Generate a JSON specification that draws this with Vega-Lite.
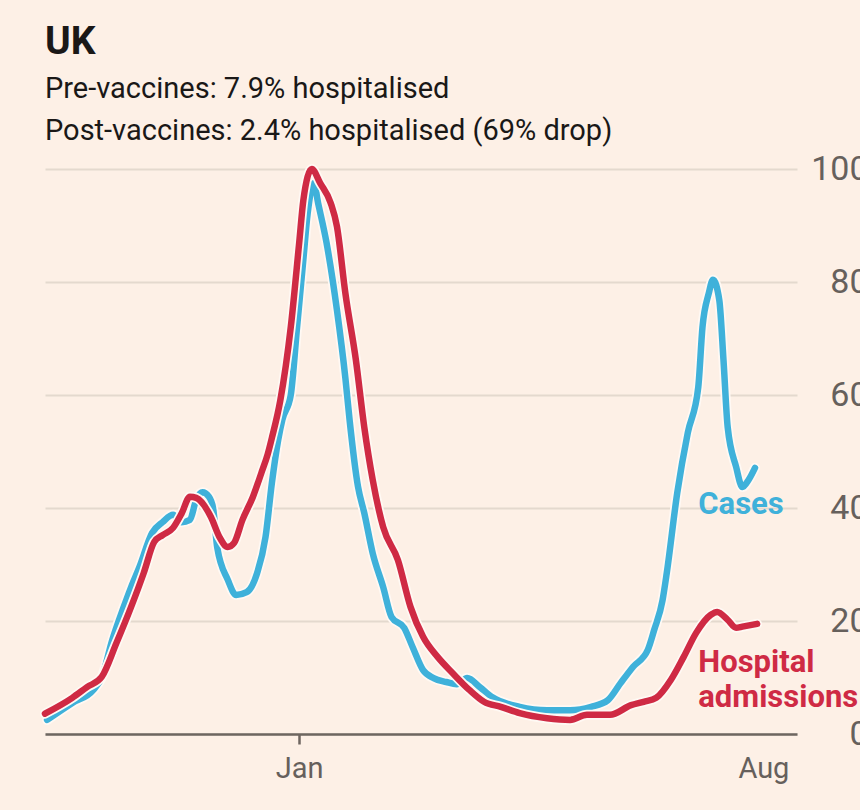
{
  "$schema": "https://vega.github.io/schema/vega-lite/v6.json",
  "width": 752,
  "height": 565,
  "autosize": {"type": "none"},
  "padding": {"left": 45, "top": 169, "right": 63, "bottom": 76},
  "background": "#fdf0e6",
  "title": {
    "text": "UK",
    "subtitle": ["Pre-vaccines: 7.9% hospitalised", "Post-vaccines: 2.4% hospitalised (69% drop)"],
    "anchor": "start",
    "frame": "group",
    "font": "Roboto",
    "fontSize": 39,
    "fontWeight": "bold",
    "color": "#1a1817",
    "subtitleFont": "Roboto",
    "subtitleFontSize": 29,
    "subtitleColor": "#1a1817",
    "subtitleLineHeight": 42,
    "subtitlePadding": 13,
    "offset": 6
  },
  "config": {"view": {"stroke": null}},
  "datasets": {
    "cases": [
      {"date": "2020-09-03T00:00:00", "value": 2.5},
      {"date": "2020-09-15T00:00:00", "value": 5.5},
      {"date": "2020-09-25T00:00:00", "value": 7.8},
      {"date": "2020-09-29T00:00:00", "value": 10},
      {"date": "2020-10-04T00:00:00", "value": 16.6},
      {"date": "2020-10-09T00:00:00", "value": 22},
      {"date": "2020-10-13T00:00:00", "value": 26},
      {"date": "2020-10-17T00:00:00", "value": 29.6},
      {"date": "2020-10-23T00:00:00", "value": 35.6},
      {"date": "2020-10-28T00:00:00", "value": 37.5},
      {"date": "2020-11-02T00:00:00", "value": 38.8},
      {"date": "2020-11-06T00:00:00", "value": 37.5},
      {"date": "2020-11-10T00:00:00", "value": 37.9},
      {"date": "2020-11-13T00:00:00", "value": 41.5},
      {"date": "2020-11-16T00:00:00", "value": 42.8},
      {"date": "2020-11-19T00:00:00", "value": 42},
      {"date": "2020-11-21T00:00:00", "value": 40},
      {"date": "2020-11-23T00:00:00", "value": 33},
      {"date": "2020-11-28T00:00:00", "value": 27.3},
      {"date": "2020-12-02T00:00:00", "value": 24.6},
      {"date": "2020-12-07T00:00:00", "value": 25.1},
      {"date": "2020-12-12T00:00:00", "value": 28.5},
      {"date": "2020-12-16T00:00:00", "value": 34.9},
      {"date": "2020-12-19T00:00:00", "value": 44.4},
      {"date": "2020-12-22T00:00:00", "value": 52},
      {"date": "2020-12-24T00:00:00", "value": 55.6},
      {"date": "2020-12-28T00:00:00", "value": 60},
      {"date": "2020-12-31T00:00:00", "value": 72},
      {"date": "2021-01-03T00:00:00", "value": 84},
      {"date": "2021-01-05T00:00:00", "value": 92},
      {"date": "2021-01-08T00:00:00", "value": 97.5},
      {"date": "2021-01-10T00:00:00", "value": 94},
      {"date": "2021-01-14T00:00:00", "value": 87},
      {"date": "2021-01-19T00:00:00", "value": 75},
      {"date": "2021-01-23T00:00:00", "value": 63},
      {"date": "2021-01-25T00:00:00", "value": 55.6},
      {"date": "2021-01-29T00:00:00", "value": 43.8},
      {"date": "2021-02-01T00:00:00", "value": 39.1},
      {"date": "2021-02-05T00:00:00", "value": 32},
      {"date": "2021-02-10T00:00:00", "value": 26},
      {"date": "2021-02-14T00:00:00", "value": 20.7},
      {"date": "2021-02-20T00:00:00", "value": 18.8},
      {"date": "2021-02-24T00:00:00", "value": 15.4},
      {"date": "2021-03-01T00:00:00", "value": 11.3},
      {"date": "2021-03-06T00:00:00", "value": 9.9},
      {"date": "2021-03-12T00:00:00", "value": 9.2},
      {"date": "2021-03-17T00:00:00", "value": 8.8},
      {"date": "2021-03-22T00:00:00", "value": 9.9},
      {"date": "2021-03-28T00:00:00", "value": 8.3},
      {"date": "2021-04-03T00:00:00", "value": 6.5},
      {"date": "2021-04-16T00:00:00", "value": 4.8},
      {"date": "2021-04-29T00:00:00", "value": 4.2},
      {"date": "2021-05-10T00:00:00", "value": 4.2},
      {"date": "2021-05-20T00:00:00", "value": 4.8},
      {"date": "2021-05-28T00:00:00", "value": 6},
      {"date": "2021-06-03T00:00:00", "value": 9},
      {"date": "2021-06-09T00:00:00", "value": 11.9},
      {"date": "2021-06-16T00:00:00", "value": 14.9},
      {"date": "2021-06-19T00:00:00", "value": 18.4},
      {"date": "2021-06-23T00:00:00", "value": 23.7},
      {"date": "2021-06-25T00:00:00", "value": 28.5},
      {"date": "2021-06-30T00:00:00", "value": 42.7},
      {"date": "2021-07-05T00:00:00", "value": 53.3},
      {"date": "2021-07-10T00:00:00", "value": 61.4},
      {"date": "2021-07-12T00:00:00", "value": 72},
      {"date": "2021-07-15T00:00:00", "value": 78},
      {"date": "2021-07-17T00:00:00", "value": 80.4},
      {"date": "2021-07-20T00:00:00", "value": 76.8},
      {"date": "2021-07-22T00:00:00", "value": 66.2},
      {"date": "2021-07-24T00:00:00", "value": 54.3},
      {"date": "2021-07-28T00:00:00", "value": 47.3},
      {"date": "2021-07-31T00:00:00", "value": 43.7},
      {"date": "2021-08-03T00:00:00", "value": 45},
      {"date": "2021-08-06T00:00:00", "value": 47.1}
    ],
    "admissions": [
      {"date": "2020-09-02T00:00:00", "value": 3.6},
      {"date": "2020-09-15T00:00:00", "value": 6.4},
      {"date": "2020-09-22T00:00:00", "value": 8.3},
      {"date": "2020-09-29T00:00:00", "value": 10.1},
      {"date": "2020-10-06T00:00:00", "value": 16.1},
      {"date": "2020-10-13T00:00:00", "value": 22.5},
      {"date": "2020-10-19T00:00:00", "value": 28.5},
      {"date": "2020-10-24T00:00:00", "value": 34},
      {"date": "2020-10-28T00:00:00", "value": 35.2},
      {"date": "2020-11-02T00:00:00", "value": 36.5},
      {"date": "2020-11-06T00:00:00", "value": 39},
      {"date": "2020-11-10T00:00:00", "value": 42},
      {"date": "2020-11-13T00:00:00", "value": 41.8},
      {"date": "2020-11-20T00:00:00", "value": 38.4},
      {"date": "2020-11-24T00:00:00", "value": 34.9},
      {"date": "2020-11-28T00:00:00", "value": 33.1},
      {"date": "2020-12-01T00:00:00", "value": 33.8},
      {"date": "2020-12-05T00:00:00", "value": 37.9},
      {"date": "2020-12-10T00:00:00", "value": 42},
      {"date": "2020-12-14T00:00:00", "value": 46.2},
      {"date": "2020-12-17T00:00:00", "value": 49.5},
      {"date": "2020-12-19T00:00:00", "value": 52.4},
      {"date": "2020-12-23T00:00:00", "value": 59},
      {"date": "2020-12-28T00:00:00", "value": 72},
      {"date": "2021-01-01T00:00:00", "value": 86.9},
      {"date": "2021-01-03T00:00:00", "value": 94.5},
      {"date": "2021-01-07T00:00:00", "value": 100},
      {"date": "2021-01-11T00:00:00", "value": 97.5},
      {"date": "2021-01-16T00:00:00", "value": 94},
      {"date": "2021-01-19T00:00:00", "value": 89.8},
      {"date": "2021-01-23T00:00:00", "value": 78},
      {"date": "2021-01-28T00:00:00", "value": 66.2},
      {"date": "2021-02-01T00:00:00", "value": 54.3},
      {"date": "2021-02-05T00:00:00", "value": 45},
      {"date": "2021-02-10T00:00:00", "value": 36.6},
      {"date": "2021-02-17T00:00:00", "value": 30.8},
      {"date": "2021-02-23T00:00:00", "value": 22.5},
      {"date": "2021-03-01T00:00:00", "value": 17.2},
      {"date": "2021-03-08T00:00:00", "value": 13.6},
      {"date": "2021-03-15T00:00:00", "value": 10.8},
      {"date": "2021-03-23T00:00:00", "value": 7.8},
      {"date": "2021-03-30T00:00:00", "value": 5.7},
      {"date": "2021-04-07T00:00:00", "value": 4.8},
      {"date": "2021-04-16T00:00:00", "value": 3.7},
      {"date": "2021-04-29T00:00:00", "value": 2.8},
      {"date": "2021-05-10T00:00:00", "value": 2.5},
      {"date": "2021-05-18T00:00:00", "value": 3.4},
      {"date": "2021-05-29T00:00:00", "value": 3.4},
      {"date": "2021-06-08T00:00:00", "value": 5.1},
      {"date": "2021-06-14T00:00:00", "value": 5.7},
      {"date": "2021-06-20T00:00:00", "value": 6.4},
      {"date": "2021-06-27T00:00:00", "value": 9.6},
      {"date": "2021-07-03T00:00:00", "value": 13.6},
      {"date": "2021-07-09T00:00:00", "value": 17.9},
      {"date": "2021-07-16T00:00:00", "value": 21.1},
      {"date": "2021-07-19T00:00:00", "value": 21.6},
      {"date": "2021-07-24T00:00:00", "value": 20.2},
      {"date": "2021-07-28T00:00:00", "value": 18.8},
      {"date": "2021-07-31T00:00:00", "value": 19},
      {"date": "2021-08-07T00:00:00", "value": 19.5}
    ],
    "labels": [
      {"date": "2021-07-10T00:00:00", "value": 38.9, "series": "Cases", "text": "Cases"},
      {"date": "2021-07-10T00:00:00", "value": 10.9, "series": "Hospital admissions", "text": "Hospital"},
      {"date": "2021-07-10T00:00:00", "value": 4.7, "series": "Hospital admissions", "text": "admissions"}
    ]
  },
  "encoding": {
    "x": {
      "field": "date",
      "type": "temporal",
      "scale": {"domain": [{"year": 2020, "month": 9, "date": 2}, {"year": 2021, "month": 8, "date": 26}]},
      "axis": {
        "title": null,
        "grid": false,
        "values": [{"year": 2021, "month": 1, "date": 1}, {"year": 2021, "month": 8, "date": 10}],
        "format": "%b",
        "domainColor": "#6e6660",
        "domainWidth": 2.5,
        "tickColor": "#6e6660",
        "tickWidth": 2.5,
        "tickSize": 10,
        "tickOpacity": {"condition": {"test": "month(datum.value) == 7", "value": 0}, "value": 1},
        "labelFont": "Roboto",
        "labelFontSize": 29,
        "labelColor": "#66605c",
        "labelPadding": 10
      }
    },
    "y": {
      "field": "value",
      "type": "quantitative",
      "scale": {"domain": [0, 100], "nice": false},
      "axis": {
        "title": null,
        "orient": "right",
        "values": [0, 20, 40, 60, 80, 100],
        "grid": true,
        "gridColor": "#e4d9ce",
        "gridWidth": 2,
        "domain": false,
        "ticks": false,
        "labelAlign": "right",
        "labelBaseline": "middle",
        "labelPadding": 71,
        "labelFont": "Roboto",
        "labelFontSize": 34,
        "labelColor": "#66605c"
      }
    }
  },
  "layer": [
    {"data": {"name": "cases"}, "mark": {"type": "line", "interpolate": "monotone", "stroke": "#fff9f4", "strokeWidth": 10, "strokeCap": "round", "strokeJoin": "round"}},
    {"data": {"name": "cases"}, "mark": {"type": "line", "interpolate": "monotone", "stroke": "#3fb1da", "strokeWidth": 6.5, "strokeCap": "round", "strokeJoin": "round"}},
    {"data": {"name": "admissions"}, "mark": {"type": "line", "interpolate": "monotone", "stroke": "#fff9f4", "strokeWidth": 10, "strokeCap": "round", "strokeJoin": "round"}},
    {"data": {"name": "admissions"}, "mark": {"type": "line", "interpolate": "monotone", "stroke": "#cf2a44", "strokeWidth": 6.5, "strokeCap": "round", "strokeJoin": "round"}},
    {
      "data": {"name": "labels"},
      "mark": {"type": "text", "align": "left", "baseline": "alphabetic", "font": "Roboto", "fontSize": 31, "fontWeight": "bold"},
      "encoding": {
        "text": {"field": "text"},
        "color": {"field": "series", "type": "nominal", "scale": {"domain": ["Cases", "Hospital admissions"], "range": ["#3fb1da", "#cf2a44"]}, "legend": null}
      }
    }
  ]
}
